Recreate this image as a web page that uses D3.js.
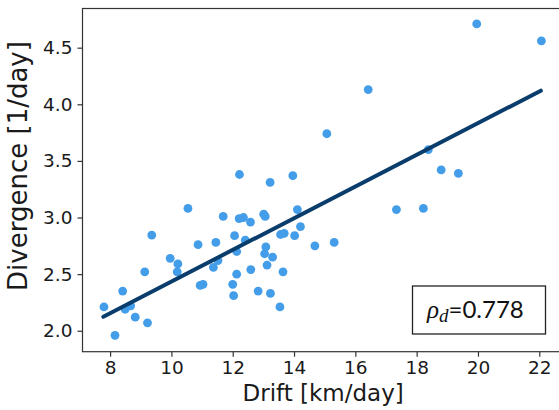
<!DOCTYPE html>
<html>
<head>
<meta charset="utf-8">
<script src="https://cdn.jsdelivr.net/npm/d3@7"></script>
<style>
  body { margin: 0; background: #fff; }
  svg { display: block; }
</style>
</head>
<body>
<div id="chart"></div>
<script>
// Données
const driftValues = [7.80, 8.16, 8.41, 8.49, 8.67, 8.82, 9.13, 9.22, 9.36, 9.96,
  10.21, 10.19, 10.54, 10.87, 10.94, 11.03, 11.37, 11.45, 11.52, 11.69,
  12.00, 12.03, 12.06, 12.13, 12.13, 12.21, 12.22, 12.35, 12.41, 12.58,
  12.59, 12.83, 13.01, 13.06, 13.08, 13.04, 13.12, 13.22, 13.23, 13.30,
  13.56, 13.68, 13.54, 13.64, 13.96, 14.02, 14.11, 14.21, 14.68, 15.31,
  15.07, 16.42, 17.34, 18.22, 18.38, 18.80, 19.36, 19.96, 22.07];
const divergenceValues = [2.21, 1.96, 2.35, 2.19, 2.22, 2.12, 2.52, 2.07, 2.845, 2.64,
  2.59, 2.52, 3.08, 2.76, 2.40, 2.41, 2.56, 2.78, 2.62, 3.01,
  2.41, 2.31, 2.84, 2.70, 2.50, 2.99, 3.38, 3.00, 2.80, 2.96,
  2.54, 2.35, 3.03, 3.01, 2.74, 2.68, 2.58, 3.31, 2.33, 2.65,
  2.85, 2.86, 2.21, 2.52, 3.37, 2.84, 3.07, 2.92, 2.75, 2.78,
  3.74, 4.13, 3.07, 3.08, 3.60, 3.42, 3.39, 4.71, 4.56];

// Droite de régression (extrémités)
const fitDrift = [7.78, 22.05];
const fitDivergence = [2.124, 4.12];

const xTicks = [8, 10, 12, 14, 16, 18, 20, 22];
const yTicks = [2.0, 2.5, 3.0, 3.5, 4.0, 4.5];
const xLabel = "Drift [km/day]";
const yLabel = "Divergence [1/day]";
const rhoValue = "=0.778";

const width = 559;
const height = 410;
const margin = { left: 82.5, right: 563.8, top: 8.5, bottom: 351.7 };

const x = d3.scaleLinear().domain([7.1, 22.8]).range([margin.left, margin.right]);
const y = d3.scaleLinear().domain([1.815, 4.846]).range([margin.bottom, margin.top]);

const svg = d3.select("#chart")
    .append("svg")
    .attr("width", width)
    .attr("height", height);

const points = driftValues.map((d, i) => ({ drift: d, div: divergenceValues[i] }));

// Nuage de points
svg.append("g")
    .selectAll("circle")
    .data(points)
    .join("circle")
    .attr("cx", d => x(d.drift))
    .attr("cy", d => y(d.div))
    .attr("r", 4.4)
    .attr("fill", "#449de8");

// Droite
const fitLine = d3.line().x(d => x(d[0])).y(d => y(d[1]));
svg.append("path")
    .datum(fitDrift.map((d, i) => [d, fitDivergence[i]]))
    .attr("d", fitLine)
    .attr("fill", "none")
    .attr("stroke", "#0a3d6b")
    .attr("stroke-width", 4)
    .attr("stroke-linecap", "round");

// Cadre
svg.append("rect")
    .attr("x", margin.left)
    .attr("y", margin.top)
    .attr("width", margin.right - margin.left)
    .attr("height", margin.bottom - margin.top)
    .attr("fill", "none")
    .attr("stroke", "#333")
    .attr("stroke-width", 1.2);

// Axes
const xAxis = svg.append("g")
    .attr("transform", `translate(0,${margin.bottom})`)
    .call(d3.axisBottom(x).tickValues(xTicks).tickSize(5).tickPadding(4).tickFormat(d3.format("d")));

const yAxis = svg.append("g")
    .attr("transform", `translate(${margin.left},0)`)
    .call(d3.axisLeft(y).tickValues(yTicks).tickSize(5).tickPadding(5).tickFormat(d3.format(".1f")));

[xAxis, yAxis].forEach(ax => {
    ax.select(".domain").remove();
    ax.selectAll("line").attr("stroke", "#333").attr("stroke-width", 1.2);
    ax.selectAll("text")
        .attr("fill", "#1a1a1a")
        .style("font-family", "DejaVu Sans")
        .style("font-size", "18.5px");
});

// Titres des axes
svg.append("text")
    .attr("x", (margin.left + margin.right) / 2)
    .attr("y", 401)
    .attr("text-anchor", "middle")
    .style("font-family", "DejaVu Sans")
    .style("font-size", "23px")
    .attr("fill", "#1a1a1a")
    .text(xLabel);

svg.append("text")
    .attr("transform", "translate(27,166) rotate(-90)")
    .attr("text-anchor", "middle")
    .style("font-family", "DejaVu Sans")
    .style("font-size", "26px")
    .attr("fill", "#1a1a1a")
    .text(yLabel);

// Encadré du coefficient de corrélation
svg.append("rect")
    .attr("x", 412.5)
    .attr("y", 286)
    .attr("width", 133)
    .attr("height", 48)
    .attr("fill", "#fff")
    .attr("stroke", "#222")
    .attr("stroke-width", 1.3);

const rho = svg.append("text")
    .attr("x", 427)
    .attr("y", 318)
    .attr("fill", "#111");
rho.append("tspan")
    .style("font-family", "Liberation Serif")
    .style("font-style", "italic")
    .style("font-size", "25px")
    .text("ρ");
rho.append("tspan")
    .attr("dy", 4)
    .style("font-family", "Liberation Serif")
    .style("font-style", "italic")
    .style("font-size", "19px")
    .text("d");
rho.append("tspan")
    .attr("dy", -4)
    .style("font-family", "Lato")
    .style("font-size", "24px")
    .text(rhoValue);
</script>
</body>
</html>
